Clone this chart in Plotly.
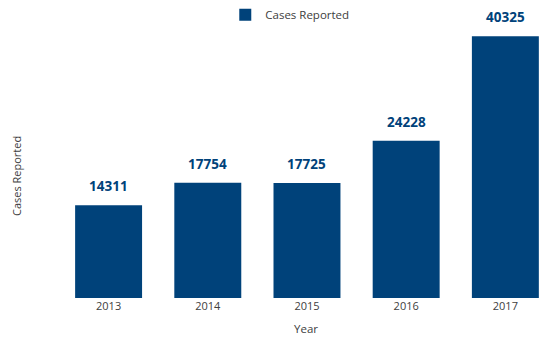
import plotly.graph_objects as go

# Reported cases per year
years = ["2013", "2014", "2015", "2016", "2017"]
cases = [14311, 17754, 17725, 24228, 40325]

bar_color = "#00427a"
text_gray = "#404040"
font_family = "Open Sans, Noto Sans, sans-serif"

fig = go.Figure()
fig.add_trace(go.Bar(
    x=years,
    y=cases,
    name="Cases Reported",
    marker=dict(color=bar_color, line=dict(width=0)),
    showlegend=True,
))

# Value labels above each bar (category axes take the serial index)
for i, val in enumerate(cases):
    fig.add_annotation(
        x=i, y=val, xref="x", yref="y",
        text=f"<b>{val}</b>", showarrow=False,
        yanchor="middle", yshift=19,
        font=dict(family=font_family, size=13.5, color=bar_color),
    )

plot_w = 550 - 59
plot_h = 341 - 6 - 43

# Axis titles, placed in paper coordinates
fig.add_annotation(
    x=(16 - 59) / plot_w, y=(341 - 43 - 176) / plot_h,
    xref="paper", yref="paper", text="Cases Reported",
    xanchor="center", yanchor="middle",
    showarrow=False, textangle=-90,
    font=dict(family=font_family, size=11, color=text_gray),
)
fig.add_annotation(
    x=(306 - 59) / plot_w, y=-(328 - 298) / plot_h,
    xref="paper", yref="paper", text="Year",
    showarrow=False, xanchor="center", yanchor="middle",
    font=dict(family=font_family, size=11.5, color=text_gray),
)

fig.update_layout(
    width=550, height=341,
    margin=dict(l=59, r=0, t=6, b=43),
    paper_bgcolor="white", plot_bgcolor="white",
    bargap=0.325,
    font=dict(family=font_family, size=11, color=text_gray),
    legend=dict(
        orientation="h", x=0.47, xanchor="center", y=1.02, yanchor="top",
        font=dict(family=font_family, size=11.5, color=text_gray),
        bgcolor="rgba(0,0,0,0)",
    ),
    xaxis=dict(
        type="category", range=[-0.5, 4.45],
        showgrid=False, showline=False, zeroline=False, ticks="",
        tickfont=dict(family=font_family, size=11, color=text_gray),
    ),
    yaxis=dict(
        range=[0, 45000], showgrid=False, showline=False, zeroline=False,
        showticklabels=False, ticks="",
    ),
)

fig.write_html("out.html")
